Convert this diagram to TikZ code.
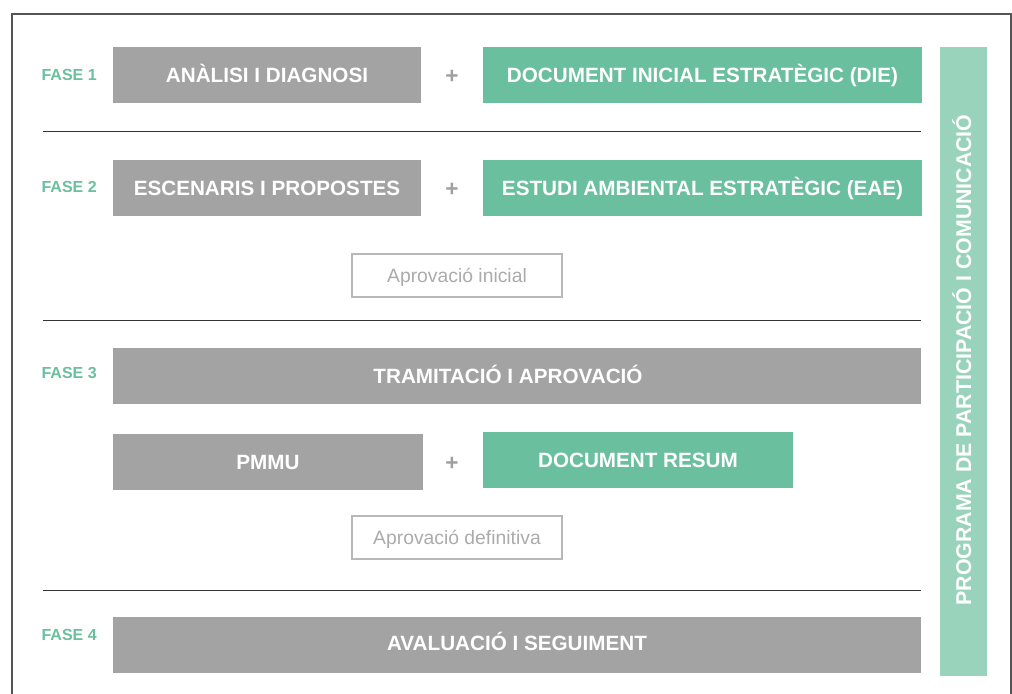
\documentclass[tikz,border=0pt]{standalone}
\usepackage{fontspec}
\setmainfont{Liberation Sans}
\definecolor{boxgray}{HTML}{A3A3A3}
\definecolor{boxgreen}{HTML}{6ABF9E}
\definecolor{bargreen}{HTML}{9AD3BC}
\definecolor{plusgray}{HTML}{A0A0A0}
\definecolor{apgray}{HTML}{B8B8B8}
\definecolor{aptext}{HTML}{ABABAB}
\definecolor{framegray}{HTML}{555555}
\begin{document}
\begin{tikzpicture}[x=0.75pt,y=-0.75pt,
  lbl/.style={text=white,font=\fontsize{15.5}{18}\selectfont\bfseries,text height=11.1pt,text depth=0pt,inner sep=0pt},
  fase/.style={text=boxgreen,font=\fontsize{12}{14}\selectfont\bfseries,anchor=east,inner sep=0pt,text height=8.6pt,text depth=0pt},
  plus/.style={text=plusgray,font=\fontsize{17}{18}\selectfont\bfseries,inner sep=0pt},
  aplbl/.style={text=aptext,font=\fontsize{14.5}{17}\selectfont,text height=10.4pt,text depth=0pt,inner sep=0pt},
  sep/.style={draw=black!80,line width=0.7pt},
  frame/.style={draw=framegray,line width=1.2pt}
]
\useasboundingbox (0,0) rectangle (1012,693);
% frame
\coordinate (fbl) at (12,700);
\coordinate (ftl) at (12,14);
\coordinate (ftr) at (1011,14);
\coordinate (fbr) at (1011,700);
\draw[frame] (fbl) -- (ftl) -- (ftr) -- (fbr);

% Row 1
\node[fase] (f1) at (97,75) {FASE 1};
\fill[boxgray] (113,47) rectangle (421,103);
\node[lbl] (a1) at (267,75) {ANÀLISI I DIAGNOSI};
\node[plus] (p1) at (452,77) {+};
\fill[boxgreen] (483,47) rectangle (922,103);
\node[lbl] (d1) at (702.5,75) {DOCUMENT INICIAL ESTRATÈGIC (DIE)};
\coordinate (l1a) at (43,131); \coordinate (l1b) at (921,131);
\draw[sep] (l1a) -- (l1b);

% Row 2
\node[fase] (f2) at (97,187) {FASE 2};
\fill[boxgray] (113,160) rectangle (421,216);
\node[lbl] (a2) at (267,188) {ESCENARIS I PROPOSTES};
\node[plus] (p2) at (452,190) {+};
\fill[boxgreen] (483,160) rectangle (922,216);
\node[lbl] (d2) at (702.5,188) {ESTUDI AMBIENTAL ESTRATÈGIC (EAE)};
\draw[draw=apgray,line width=0.8pt] (352,254) rectangle (562,297);
\node[aplbl] (ap1) at (457,275.5) {Aprovació inicial};
\coordinate (l2a) at (43,320); \coordinate (l2b) at (921,320);
\draw[sep] (l2a) -- (l2b);

% Row 3
\node[fase] (f3) at (97,373) {FASE 3};
\fill[boxgray] (113,348) rectangle (921,404);
\node[lbl] (t3) at (508,376) {TRAMITACIÓ I APROVACIÓ};
\fill[boxgray] (113,434) rectangle (423,490);
\node[lbl] (pm) at (268,462) {PMMU};
\node[plus] (p3) at (452,464) {+};
\fill[boxgreen] (483,432) rectangle (793,488);
\node[lbl] (dr) at (638,460) {DOCUMENT RESUM};
\draw[draw=apgray,line width=0.8pt] (352,516) rectangle (562,559);
\node[aplbl] (ap2) at (457,537.5) {Aprovació definitiva};
\coordinate (l3a) at (43,590); \coordinate (l3b) at (921,590);
\draw[sep] (l3a) -- (l3b);

% Row 4
\node[fase] (f4) at (97,635) {FASE 4};
\fill[boxgray] (113,617) rectangle (921,673);
\node[lbl] (av) at (517,643) {AVALUACIÓ I SEGUIMENT};

% Right bar
\fill[bargreen] (940,47) rectangle (987,676);
\node[lbl,font=\fontsize{16}{18}\selectfont\bfseries,text height=11.5pt,rotate=90] (pg) at (963.5,360) {PROGRAMA DE PARTICIPACIÓ I COMUNICACIÓ};
\end{tikzpicture}
\end{document}
